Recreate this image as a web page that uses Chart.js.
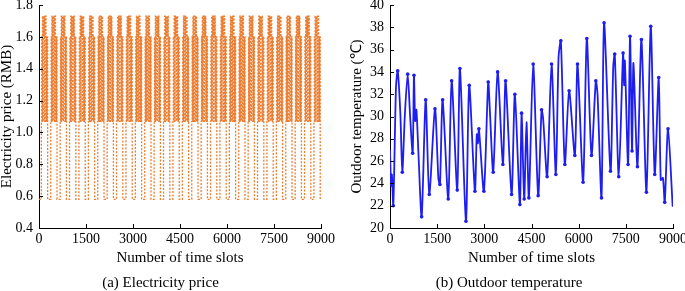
<!DOCTYPE html>
<html>
<head>
<meta charset="utf-8">
<script src="https://cdn.jsdelivr.net/npm/chart.js@4"></script>
<style>
  html, body { margin: 0; padding: 0; background: #fff; }
  #wrap { position: relative; width: 685px; height: 291px; }
  #priceChart { position: absolute; left: 0; top: 0; }
  #tempChart { position: absolute; left: 345px; top: 0; }
</style>
</head>
<body>
<div id="wrap">
  <canvas id="priceChart" width="345" height="291"></canvas>
  <canvas id="tempChart" width="340" height="291"></canvas>
</div>
<script>
// x axis ticks (number of time slots)
const slotTicks = [0, 1500, 3000, 4500, 6000, 7500, 9000];

// (a) electricity price: one day of tariff (hourly, RMB), repeated for each day
const dailyTariff = [0.58, 0.58, 0.58, 0.58, 0.58, 0.58, 1.07, 1.6, 1.07, 1.73, 1.07, 1.73,
                     1.6, 1.73, 1.07, 1.73, 1.6, 1.73, 1.07, 1.6, 1.07, 1.6, 0.58, 0.58];
const numDays = 30;
const slotsPerDay = 300;

// (b) outdoor temperature: daily highs / lows (marked with dots)
const tempSlots = [105, 245, 391, 562, 721, 762, 1007, 1134, 1249, 1430, 1589, 1674, 1852, 1960,
  2138, 2224, 2415, 2519, 2700, 2828, 2986, 3123, 3282, 3422, 3590, 3676, 3866, 3971, 4130, 4184,
  4268, 4417, 4553, 4712, 4820, 4997, 5137, 5274, 5433, 5560, 5696, 5878, 5963, 6141, 6259, 6408,
  6545, 6726, 6808, 7012, 7148, 7275, 7412, 7571, 7634, 7698, 7869, 7996, 8155, 8292, 8419, 8546,
  8737, 8842];
const tempValues = [22.0, 34.1, 25.0, 33.8, 26.7, 33.7, 21.0, 31.5, 23.0, 30.7, 23.9, 31.5, 22.6, 33.2,
  23.4, 34.3, 20.6, 32.8, 23.3, 28.9, 23.3, 33.1, 25.0, 34.0, 25.7, 33.2, 23.0, 32.0, 22.1, 30.3,
  22.6, 22.7, 34.7, 22.9, 30.6, 24.6, 34.7, 24.8, 36.8, 25.7, 32.3, 26.5, 34.7, 24.1, 37.0, 26.5,
  33.2, 22.7, 38.4, 25.1, 35.6, 24.6, 35.7, 25.7, 37.2, 26.9, 25.5, 36.9, 23.2, 38.1, 24.8, 33.5,
  22.3, 28.9];
// in-between readings (no dot)
const tempExtraSlots = [0, 35, 60, 190, 330, 470, 640, 800, 840, 900, 1540, 2760, 2795, 3180, 4340,
  4870, 5360, 6600, 7100, 7445, 7470, 7742, 8610, 8680, 8990];
const tempExtraValues = [27.0, 23.8, 24.8, 32.6, 30.2, 30.0, 30.0, 29.6, 30.6, 27.0, 24.4, 28.4, 27.6,
  30.3, 29.5, 29.8, 35.3, 32.0, 34.5, 32.8, 35.0, 34.8, 24.3, 24.5, 21.9];

// build price series
const priceData = [];
for (let d = 0; d < numDays; d++) {
  dailyTariff.forEach((p, h) => {
    priceData.push({ x: d * slotsPerDay + h * slotsPerDay / 24, y: p });
  });
}
priceData.push({ x: numDays * slotsPerDay, y: dailyTariff[0] });

// build temperature series
const tempData = [];
tempSlots.forEach((s, i) => tempData.push({ x: s, y: tempValues[i], m: true }));
tempExtraSlots.forEach((s, i) => tempData.push({ x: s, y: tempExtraValues[i], m: false }));
tempData.sort((a, b) => a.x - b.x);

const serif = "'Liberation Serif', 'Times New Roman', serif";

// ticks pointing into the plot
const innerTicks = {
  id: 'innerTicks',
  afterDraw(chart) {
    const ctx = chart.ctx;
    const xs = chart.scales.x, ys = chart.scales.y;
    ctx.save();
    ctx.strokeStyle = '#000';
    ctx.lineWidth = 1;
    ctx.beginPath();
    xs.ticks.forEach(t => {
      const px = Math.round(xs.getPixelForValue(t.value)) + 0.5;
      ctx.moveTo(px, ys.bottom);
      ctx.lineTo(px, ys.bottom - 4);
    });
    ys.ticks.forEach(t => {
      const py = Math.round(ys.getPixelForValue(t.value)) + 0.5;
      ctx.moveTo(xs.left, py);
      ctx.lineTo(xs.left + 4, py);
    });
    ctx.stroke();
    ctx.restore();
  }
};

function makeOptions(o) {
  return {
    responsive: false,
    animation: false,
    devicePixelRatio: 1,
    layout: { padding: { top: 0, right: o.padRight, left: 0, bottom: 0 } },
    plugins: {
      legend: { display: false },
      tooltip: { enabled: false },
      title: {
        display: true,
        position: 'bottom',
        text: o.caption,
        color: '#000',
        font: { family: serif, size: 15, weight: 'normal', lineHeight: 1.0 },
        padding: { top: 0, bottom: 0 }
      }
    },
    scales: {
      x: {
        type: 'linear',
        min: 0,
        max: 9000,
        afterBuildTicks: s => { s.ticks = slotTicks.map(v => ({ value: v })); },
        afterFit: s => { s.height = 48; s.paddingLeft = 0; s.paddingRight = 0; },
        grid: { display: false, drawTicks: false },
        border: { display: true, color: '#000', width: 1 },
        ticks: {
          color: '#000', padding: 3, maxRotation: 0, autoSkip: false,
          font: { family: serif, size: 14 },
          callback: v => String(v)
        },
        title: {
          display: true,
          text: 'Number of time slots',
          color: '#000',
          font: { family: serif, size: 15 },
          padding: { top: 0, bottom: 9 }
        }
      },
      y: {
        min: o.yMin,
        max: o.yMax,
        afterFit: s => { s.width = o.axisWidth; s.paddingTop = 5; s.paddingBottom = 0; },
        grid: { display: false, drawTicks: false },
        border: { display: true, color: '#000', width: 1 },
        ticks: {
          stepSize: o.yStep,
          color: '#000',
          padding: 6,
          font: { family: serif, size: 14 },
          callback: v => v.toFixed(o.decimals)
        },
        title: {
          display: true,
          text: o.yTitle,
          color: '#000',
          font: { family: serif, size: 15, lineHeight: 1.0 },
          padding: { top: o.yTitlePad, bottom: 0 }
        }
      }
    }
  };
}

new Chart(document.getElementById('priceChart'), {
  type: 'line',
  data: {
    datasets: [{
      data: priceData,
      stepped: true,
      borderColor: '#ED7D31',
      borderWidth: 1.3,
      borderDash: [2, 1.5],
      pointRadius: 0,
      fill: false
    }]
  },
  options: makeOptions({
    padRight: 24, axisWidth: 39, yMin: 0.4, yMax: 1.8, yStep: 0.2, decimals: 1,
    yTitle: 'Electricity price (RMB)', yTitlePad: 0, caption: '(a) Electricity price'
  }),
  plugins: [innerTicks]
});

new Chart(document.getElementById('tempChart'), {
  type: 'line',
  data: {
    datasets: [{
      data: tempData,
      borderColor: '#1E1EF0',
      backgroundColor: '#1E1EF0',
      borderWidth: 1.8,
      tension: 0.25,
      pointRadius: c => (c.raw && c.raw.m ? 1.8 : 0),
      pointBorderWidth: 0,
      fill: false
    }]
  },
  options: makeOptions({
    padRight: 12, axisWidth: 45, yMin: 20, yMax: 40, yStep: 2, decimals: 0,
    yTitle: 'Outdoor temperature (℃)', yTitlePad: 4.5, caption: '(b) Outdoor temperature'
  }),
  plugins: [innerTicks]
});
</script>
</body>
</html>
